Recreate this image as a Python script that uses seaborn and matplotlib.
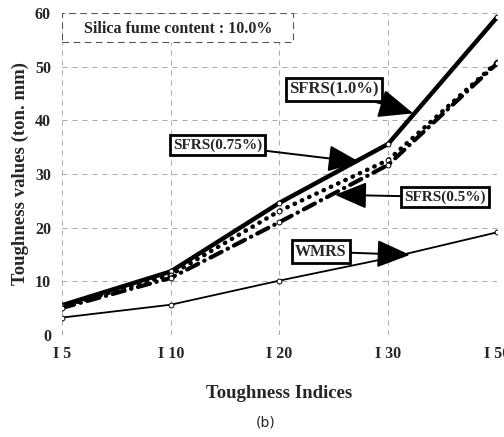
import pandas as pd
import matplotlib
matplotlib.use("Agg")
import matplotlib.pyplot as plt
from matplotlib.patches import Rectangle
import seaborn as sns

# values (toughness in ton.mm)
indices = ["I 5", "I 10", "I 20", "I 30", "I 50"]
sfrs_10 = [5.5, 11.8, 24.6, 35.6, 59.2]
sfrs_075 = [5.3, 11.2, 23.1, 32.6, 50.8]
sfrs_05 = [5.0, 10.6, 21.0, 31.7, 50.6]
wmrs = [3.2, 5.6, 10.1, 14.3, 19.1]
series = ["SFRS(1.0%)", "SFRS(0.75%)", "SFRS(0.5%)", "WMRS"]

df = pd.concat([
    pd.DataFrame({"index": indices, "value": vals, "series": name})
    for name, vals in zip(series, [sfrs_10, sfrs_075, sfrs_05, wmrs])
])

sns.set_style("white")
plt.rcParams["font.family"] = ["Liberation Serif", "DejaVu Serif"]

fig = plt.figure(figsize=(5.04, 4.37), dpi=100)
ax = fig.add_axes([0.123, 0.234, 0.863, 0.736])

sns.lineplot(data=df, x="index", y="value", hue="series", style="series",
             size="series", palette=["black"] * 4,
             sizes={"SFRS(1.0%)": 3.2, "SFRS(0.75%)": 3.2,
                    "SFRS(0.5%)": 3.0, "WMRS": 1.3},
             dashes={"SFRS(1.0%)": "", "SFRS(0.75%)": (0.1, 1.7),
                     "SFRS(0.5%)": (3, 1.6, 0.1, 1.6), "WMRS": ""},
             markers={"SFRS(1.0%)": "o", "SFRS(0.75%)": "o",
                      "SFRS(0.5%)": "o", "WMRS": "o"},
             markersize=3.5, markerfacecolor="white", markeredgecolor="black",
             markeredgewidth=0.7, legend=False, sort=False, ax=ax)
for ln in ax.get_lines():
    ln.set_dash_capstyle("round")
    ln.set_solid_capstyle("round")

ax.set_xlim(0, 4)
ax.set_ylim(0, 60)
ax.set_yticks(range(0, 61, 10))
for s in ax.spines.values():
    s.set_visible(False)
ax.grid(True, color="#9a9a9a", linestyle=(0, (6, 6)), linewidth=0.6)
ax.tick_params(length=0, labelsize=11.5, pad=8)
for t in ax.get_xticklabels() + ax.get_yticklabels():
    t.set_fontweight("bold")

ax.set_xlabel("Toughness Indices", fontsize=13.5, fontweight="bold", labelpad=17)
ax.set_ylabel("Toughness values (ton. mm)", fontsize=13.5, fontweight="bold", labelpad=4)

# dashed box in the top-left corner holding the silica fume note
ax.add_patch(Rectangle((0, 54.6), 2.12, 5.4, fc="white", ec="#555555", lw=0.8,
                       ls=(0, (6, 4)), zorder=3))
ax.text(1.07, 57.0, "Silica fume content : 10.0%", fontsize=11.5, fontweight="bold",
        ha="center", va="center", zorder=4)

box = dict(boxstyle="square,pad=0.2", fc="white", ec="black", lw=2)
arrow = dict(arrowstyle="-|>,head_length=1.8,head_width=0.75", color="black",
             lw=1.4, shrinkA=0, shrinkB=0)
notes = [
    ("SFRS(1.0%)", (2.50, 45.8), (3.23, 41.3), 12),
    ("SFRS(0.75%)", (1.43, 35.4), (2.74, 32.2), 11),
    ("SFRS(0.5%)", (3.52, 25.7), (2.51, 26.1), 11),
    ("WMRS", (2.38, 15.5), (3.20, 14.9), 11.5),
]
for label, txt, tip, fs in notes:
    ax.annotate(label, xy=tip, xytext=txt, fontsize=fs, fontweight="bold",
                ha="center", va="center", bbox=box, arrowprops=arrow)

fig.text(0.528, 0.025, "(b)", fontsize=10, family="DejaVu Sans", ha="center")

fig.savefig("out.png", dpi=100)
